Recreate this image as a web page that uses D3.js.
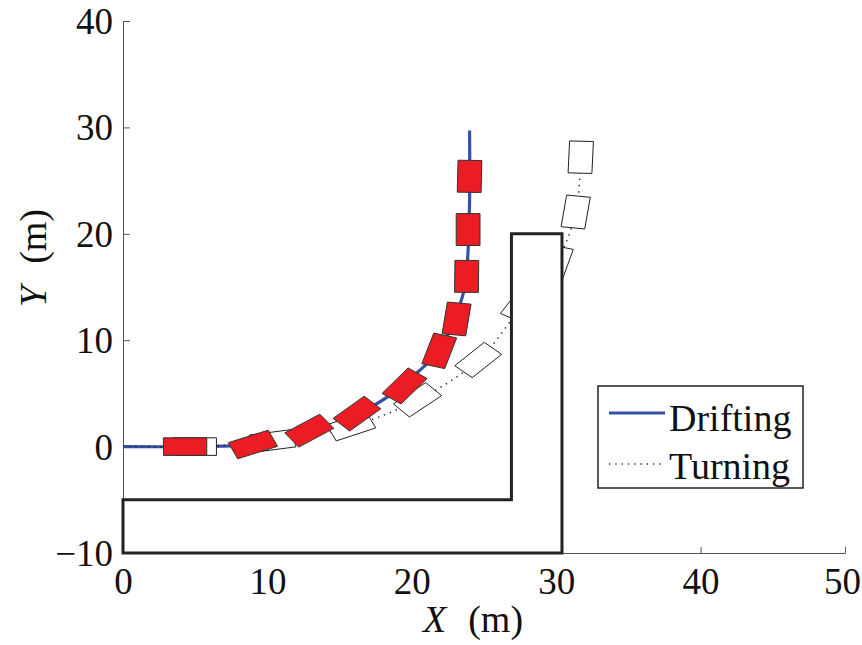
<!DOCTYPE html>
<meta charset="utf-8">
<style>
body { margin: 0; background: #fff; }
text { font-family: "Liberation Serif", "Times New Roman", Times, serif; fill: #111; }
.axis path, .axis line { stroke: #555; stroke-width: 1px; }
</style>
<body>
<svg width="862" height="645"></svg>
<script src="https://d3js.org/d3.v7.min.js"></script>
<script>

// drifting trajectory (blue solid)
var driftX = [0, 5, 8, 10, 12.9, 16, 18.4, 20.5, 21.9, 22.9, 23.6, 23.85, 24, 24];
var driftY = [0, 0, 0.1, 0.35, 1.3, 2.9, 4.75, 7.1, 9.0, 11.8, 14.6, 17.4, 23, 29.7];

// turning trajectory (black dotted)
var turnX = [0, 5, 10.4, 15.8, 20.4, 24.6, 27.6, 30.0, 31.35, 31.7];
var turnY = [0, 0, 0.5, 1.9, 4.4, 8.1, 13.2, 17.3, 22.0, 27.2];

// car poses along drifting path (red)
var driftCarX = [4.3, 9.0, 12.9, 16.2, 19.5, 21.9, 23.1, 23.8, 23.9, 24.0];
var driftCarY = [0.0, 0.2, 1.5, 3.1, 5.7, 9.0, 12.0, 16.0, 20.4, 25.4];
var driftCarHeading = [0, 23, 36, 44, 53, 74, 83, 89.5, 90, 89];

// car poses along turning path (white)
var turnCarX = [4.97, 10.36, 15.8, 20.4, 24.6, 27.6, 30.0, 31.35, 31.7];
var turnCarY = [0.0, 0.53, 1.9, 4.4, 8.14, 13.4, 17.3, 22.05, 27.2];
var turnCarHeading = [0, 10, 24, 42, 47, 60, 75, 82.6, 88];

// L-shaped obstacle outline
var wallX = [0, 26.9, 26.9, 30.4, 30.4, 0];
var wallY = [-5, -5, 20, 20, -10, -10];

var xTicks = [0, 10, 20, 30, 40, 50];
var yTicks = [-10, 0, 10, 20, 30, 40];

var carLength = 3.0, carWidth = 1.65;

var svg = d3.select("svg");

var x = d3.scaleLinear().domain([0, 50]).range([123, 845]);
var y = d3.scaleLinear().domain([-10, 40]).range([553, 21]);

// axes, ticks pointing inward
var xAxis = svg.append("g")
    .attr("class", "axis")
    .attr("transform", "translate(0," + y(-10) + ")")
    .call(d3.axisBottom(x).tickValues(xTicks).tickSizeInner(-6).tickSizeOuter(0).tickPadding(15));
xAxis.selectAll("text")
    .style("font-size", "37px")
    .attr("dy", "0.71em")
    .attr("dx", function(d) { return d == 50 ? -3 : 0; });

var yAxis = svg.append("g")
    .attr("class", "axis")
    .attr("transform", "translate(" + x(0) + ",0)")
    .call(d3.axisLeft(y).tickValues(yTicks).tickSizeInner(-7).tickSizeOuter(0).tickPadding(10));
yAxis.selectAll("text")
    .style("font-size", "37px")
    .attr("dy", "0.34em");
yAxis.selectAll(".tick line").filter(function(d) { return d == -10; }).remove();
xAxis.selectAll(".tick line").filter(function(d) { return d == 0; }).remove();

var line = d3.line()
    .x(function(d) { return x(d[0]); })
    .y(function(d) { return y(d[1]); })
    .curve(d3.curveCatmullRom);

svg.append("path")
    .datum(d3.zip(driftX, driftY))
    .attr("d", line)
    .attr("fill", "none")
    .attr("stroke", "#3352a3")
    .attr("stroke-width", 3.2);

svg.append("path")
    .datum(d3.zip(turnX, turnY))
    .attr("d", line)
    .attr("fill", "none")
    .attr("stroke", "#222")
    .attr("stroke-width", 1.5)
    .attr("stroke-dasharray", "1.3,5");

// rectangle for one car, corners worked out in metres, then scaled
function carPoints(cx, cy, hdeg) {
  var a = hdeg * Math.PI / 180, c = Math.cos(a), s = Math.sin(a);
  var corners = [[1, 1], [1, -1], [-1, -1], [-1, 1]];
  return corners.map(function(k) {
    var lx = k[0] * carLength / 2, ly = k[1] * carWidth / 2;
    return [x(cx + lx * c - ly * s), y(cy + lx * s + ly * c)].join(",");
  }).join(" ");
}

svg.append("g").selectAll("polygon")
    .data(d3.range(turnCarX.length))
  .enter().append("polygon")
    .attr("points", function(i) { return carPoints(turnCarX[i], turnCarY[i], turnCarHeading[i]); })
    .attr("fill", "#fff")
    .attr("stroke", "#222")
    .attr("stroke-width", 1);

svg.append("g").selectAll("polygon")
    .data(d3.range(driftCarX.length))
  .enter().append("polygon")
    .attr("points", function(i) { return carPoints(driftCarX[i], driftCarY[i], driftCarHeading[i]); })
    .attr("fill", "#ec1c24")
    .attr("stroke", "#333")
    .attr("stroke-width", 1);

svg.append("polygon")
    .attr("points", wallX.map(function(d, i) { return x(d) + "," + y(wallY[i]); }).join(" "))
    .attr("fill", "#fff")
    .attr("stroke", "#222")
    .attr("stroke-width", 3);

// legend
var legend = svg.append("g").attr("transform", "translate(598,386)");
legend.append("rect")
    .attr("width", 205).attr("height", 102)
    .attr("fill", "#fff").attr("stroke", "#222").attr("stroke-width", 1.5);
legend.append("line")
    .attr("x1", 11).attr("x2", 67).attr("y1", 27).attr("y2", 27)
    .attr("stroke", "#3352a3").attr("stroke-width", 3.2);
legend.append("line")
    .attr("x1", 11).attr("x2", 64).attr("y1", 78).attr("y2", 78)
    .attr("stroke", "#222").attr("stroke-width", 1.5).attr("stroke-dasharray", "1.3,5");
legend.append("text").attr("x", 71).attr("y", 45).style("font-size", "38px").text("Drifting");
legend.append("text").attr("x", 71).attr("y", 93).style("font-size", "38px").text("Turning");

// axis titles
var xl = svg.append("text")
    .attr("x", 473).attr("y", 632)
    .attr("text-anchor", "middle")
    .style("font-size", "38px");
xl.append("tspan").style("font-style", "italic").text("X");
xl.append("tspan").attr("dx", 22).text("(m)");

var yl = svg.append("text")
    .attr("transform", "translate(46,258) rotate(-90)")
    .attr("text-anchor", "middle")
    .style("font-size", "38px");
yl.append("tspan").style("font-style", "italic").text("Y");
yl.append("tspan").attr("dx", 22).text("(m)");

</script>
</body>
